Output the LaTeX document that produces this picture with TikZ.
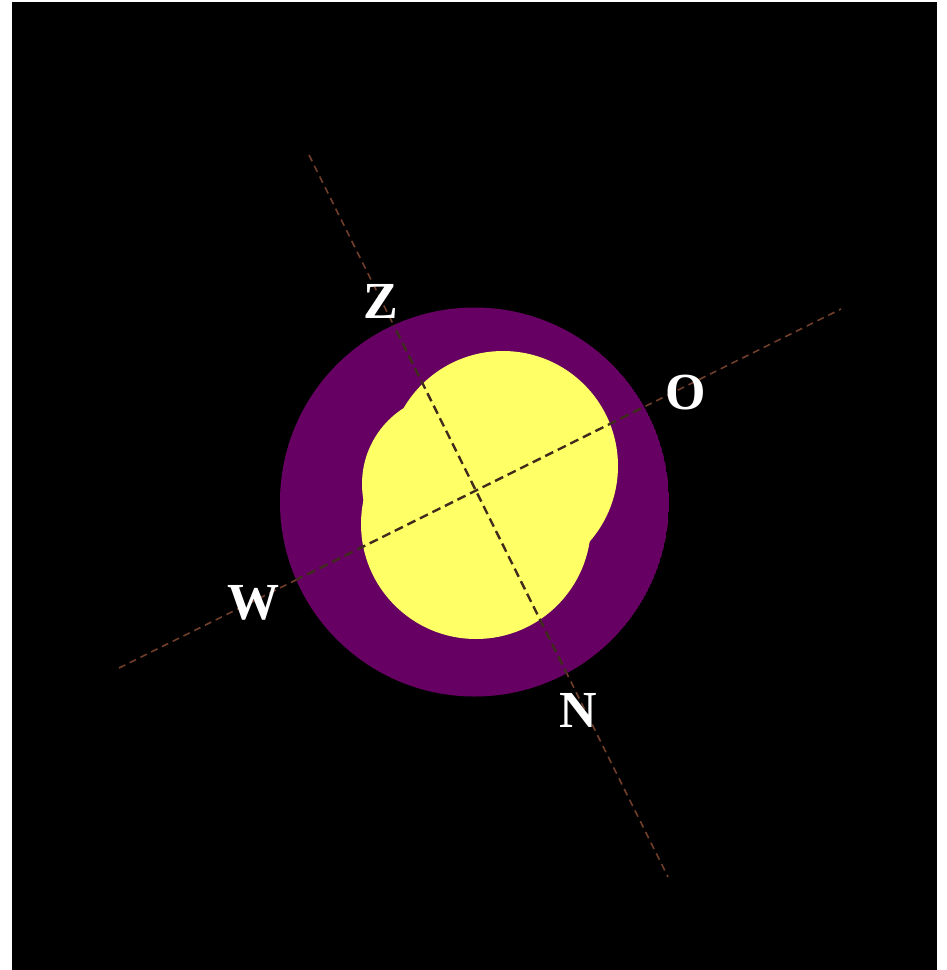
\documentclass[tikz,border=0pt]{standalone}
\usepackage{fontspec}
\setmainfont{Liberation Serif}
\newfontfamily\lblfont{Liberation Serif}
\begin{document}
\begin{tikzpicture}[x=1pt,y=-1pt,
  axisout/.style={draw=axisbrown,line width=1.6pt,dash pattern=on 7pt off 5pt},
  axisin/.style={draw=axisdark,line width=2.4pt,dash pattern=on 9pt off 5pt},
  lbl/.style={text=white,font=\lblfont\bfseries\fontsize{52}{56}\selectfont,inner sep=0pt},
  core/.style={fill=coreyellow}]
\definecolor{axisbrown}{RGB}{112,62,42}
\definecolor{axisdark}{RGB}{64,44,28}
\definecolor{discpurple}{RGB}{102,0,98}
\definecolor{coreyellow}{RGB}{255,255,102}
\useasboundingbox (0,0) rectangle (946,970);
\fill[white] (0,0) rectangle (946,970);
\fill[black] (12,2) rectangle (937,970);
% disc
\coordinate (C) at (474.5,502);
% axes (outer parts)
\coordinate (Zend) at (309,155);
\coordinate (Nend) at (668,877);
\coordinate (Wend) at (119,668);
\coordinate (Oend) at (841,309);
\draw[axisout] (Zend) -- (Nend);
\draw[axisout] (Wend) -- (Oend);
\begin{scope}
  \clip (C) circle[radius=194.5];
  \fill[discpurple] (C) circle[radius=194.5];
  \fill[core] (503,466) circle[radius=115];
  \fill[core] (476,524) circle[radius=115];
  \fill[core] (452,484) circle[radius=90];
  \draw[axisin] (Zend) -- (Nend);
  \draw[axisin] (Wend) -- (Oend);
\end{scope}
% labels
\node[lbl] (Z) at (381,301) {Z};
\node[lbl] (O) at (686,393) {O};
\node[lbl] (W) at (253,603) {W};
\node[lbl] (N) at (578,710) {N};
\end{tikzpicture}
\end{document}
